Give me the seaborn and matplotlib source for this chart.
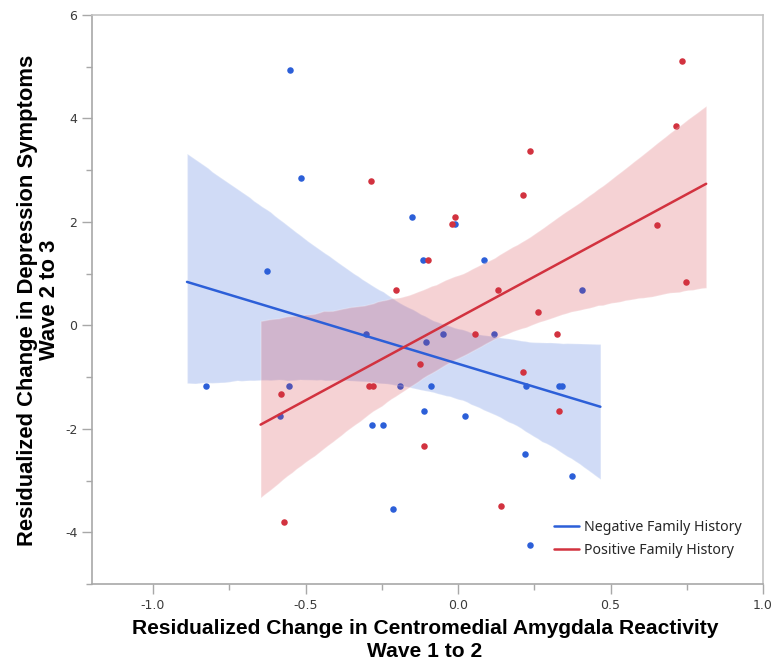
import numpy as np
import pandas as pd
import matplotlib
matplotlib.use('Agg')
import matplotlib.pyplot as plt
from matplotlib.lines import Line2D
from matplotlib.ticker import MultipleLocator
import seaborn as sns

# Negative family history (blue)
neg_x = [-0.550, -0.515, -0.151, -0.009, -0.116, -0.627, 0.405, 0.084,
         -0.827, -0.554, -0.585, -0.303, -0.189, -0.106, -0.050, -0.090,
         -0.111, -0.281, -0.246, 0.023, -0.212, 0.118, 0.222, 0.330,
         0.340, 0.219, 0.374, 0.235]
neg_y = [4.93, 2.84, 2.10, 1.95, 1.26, 1.05, 0.68, 1.26,
         -1.17, -1.17, -1.75, -0.17, -1.17, -0.33, -0.17, -1.17,
         -1.65, -1.92, -1.92, -1.75, -3.55, -0.17, -1.17, -1.17,
         -1.17, -2.49, -2.92, -4.24]

# Positive family history (red)
pos_x = [-0.285, -0.011, -0.020, -0.098, -0.203, 0.734, 0.716, 0.235,
         0.213, 0.651, 0.747, 0.131, 0.261, -0.292, -0.280, -0.581,
         -0.126, -0.111, -0.571, 0.055, 0.323, 0.214, 0.331, 0.140]
pos_y = [2.79, 2.10, 1.95, 1.26, 0.68, 5.11, 3.85, 3.37,
         2.52, 1.94, 0.83, 0.68, 0.26, -1.17, -1.17, -1.33,
         -0.75, -2.34, -3.81, -0.17, -0.17, -0.91, -1.65, -3.49]

groups = ['Negative Family History', 'Positive Family History']
colors = ['#2c5fd8', '#d2323f']

df = pd.concat([
    pd.DataFrame({'x': neg_x, 'y': neg_y, 'group': groups[0]}),
    pd.DataFrame({'x': pos_x, 'y': pos_y, 'group': groups[1]}),
])

sns.set_style('white')
plt.rcParams['font.family'] = ['Liberation Sans', 'DejaVu Sans']

fig = plt.figure(figsize=(7.78, 6.69), dpi=100)
ax = fig.add_axes([0.1183, 0.1271, 0.8625, 0.8505])

for g, c in zip(groups, colors):
    sub = df[df['group'] == g]
    # JMP draws the fit a bit past the data range (about 5% each side)
    lo, hi = sub['x'].min(), sub['x'].max()
    pad = 0.05 * (hi - lo)
    ax.set_xlim(lo - pad, hi + pad)
    sns.regplot(data=sub, x='x', y='y', ax=ax, truncate=False, ci=95,
                n_boot=2000, seed=3, color=c,
                scatter_kws={'s': 22, 'linewidths': 0, 'alpha': 1},
                line_kws={'linewidth': 1.8})

# pale fill like JMP
for coll in ax.collections:
    if 'Poly' in coll.__class__.__name__:
        coll.set_alpha(0.22)

ax.set_xlim(-1.2, 1.0)
ax.set_ylim(-5, 6)
ax.xaxis.set_minor_locator(MultipleLocator(0.25))
ax.yaxis.set_minor_locator(MultipleLocator(1))
ax.set_xticks([-1.0, -0.5, 0.0, 0.5, 1.0])
ax.set_xticklabels(['-1.0', '-0.5', '0.0', '0.5', '1.0'])
ax.set_yticks([-4, -2, 0, 2, 4, 6])
ax.set_yticklabels(['-4', '-2', '0', '2', '4', '6'])

ax.tick_params(which='major', direction='out', length=7, width=1,
               color='#a8a8a8', labelcolor='#3a3a3a',
               bottom=True, left=True)
ax.tick_params(which='minor', direction='out', length=4, width=1,
               color='#a8a8a8', bottom=True, left=True)
for lab in ax.get_xticklabels() + ax.get_yticklabels():
    lab.set_family('DejaVu Sans')
    lab.set_fontsize(9)

for side in ['left', 'bottom']:
    ax.spines[side].set_color('#a8a8a8')
    ax.spines[side].set_linewidth(1.2)
for side in ['top', 'right']:
    ax.spines[side].set_color('#c4c4c4')
    ax.spines[side].set_linewidth(1.2)

ax.set_xlabel('Residualized Change in Centromedial Amygdala Reactivity\nWave 1 to 2',
              fontsize=15.1, fontweight='bold', linespacing=1.25, color='black')
ax.set_ylabel('Residualized Change in Depression Symptoms\nWave 2 to 3',
              fontsize=15.8, fontweight='bold', linespacing=1.08, color='black')
ax.xaxis.set_label_coords(0.496, -0.062)
ax.yaxis.set_label_coords(-0.048, 0.499)

handles = [Line2D([0], [0], color=c, lw=1.8) for c in colors]
ax.legend(handles, groups, loc='upper left', bbox_to_anchor=(0.6885, 0.113),
          frameon=False, borderpad=0, borderaxespad=0, handlelength=1.75,
          handletextpad=0.35, labelspacing=0.6,
          prop={'family': 'Noto Sans', 'size': 10.2})

fig.savefig('out.png', dpi=100)
